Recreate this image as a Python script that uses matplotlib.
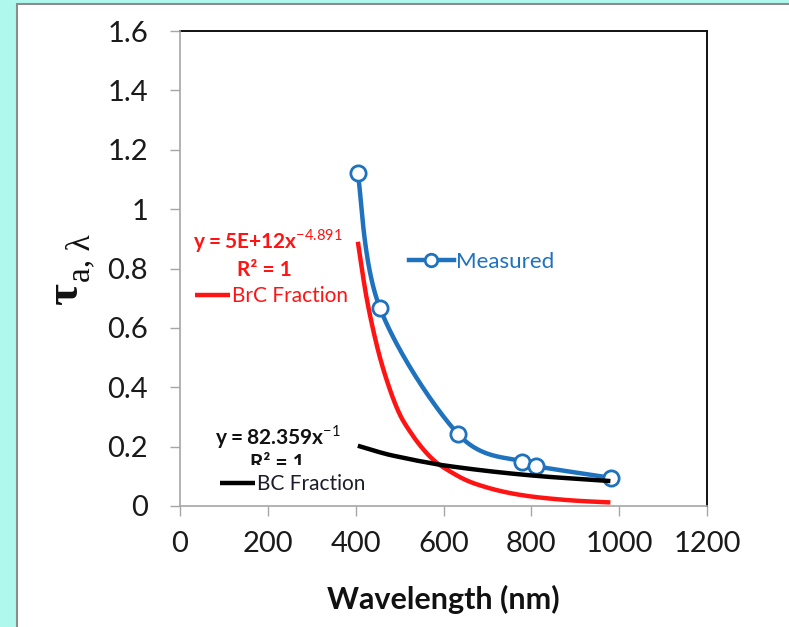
import numpy as np
import matplotlib.pyplot as plt
from matplotlib.patches import Rectangle

# measured optical depth
wavelength = [405, 455, 634, 779, 810, 981]
tau_measured = [1.12, 0.668, 0.241, 0.149, 0.134, 0.095]

# apportioned fractions
frac_wavelength = [405, 425, 450, 475, 500, 525, 550, 575, 600, 650, 700, 750, 800, 850, 900, 950, 980]
tau_brc = [0.89, 0.70, 0.53, 0.405, 0.31, 0.248, 0.198, 0.158, 0.13, 0.088, 0.062, 0.044,
           0.032, 0.024, 0.018, 0.014, 0.012]
tau_bc = [0.203, 0.194, 0.183, 0.173, 0.165, 0.157, 0.150, 0.143, 0.137, 0.127, 0.118, 0.110,
          0.103, 0.097, 0.092, 0.087, 0.084]

xticks = [0, 200, 400, 600, 800, 1000, 1200]
yticks = [0, 0.2, 0.4, 0.6, 0.8, 1, 1.2, 1.4, 1.6]

BLUE = "#1f72bd"
RED = "#ff1414"
BLACK = "#000000"
GREY = "#a6a6a6"


def smooth(x, y, n=40):
    """Catmull-Rom style smoothing (same as a spreadsheet 'smoothed line')."""
    p = np.column_stack([x, y]).astype(float)
    p = np.vstack([p[0], p, p[-1]])
    out = []
    for i in range(1, len(p) - 2):
        p0, p1, p2, p3 = p[i - 1], p[i], p[i + 1], p[i + 2]
        c1 = p1 + (p2 - p0) / 6.0
        c2 = p2 - (p3 - p1) / 6.0
        t = np.linspace(0, 1, n)[:, None]
        seg = ((1 - t) ** 3) * p1 + 3 * ((1 - t) ** 2) * t * c1 + 3 * (1 - t) * t ** 2 * c2 + t ** 3 * p2
        out.append(seg if i == 1 else seg[1:])
    out = np.vstack(out)
    return out[:, 0], out[:, 1]


plt.rcParams["font.family"] = ["Lato", "DejaVu Sans"]
plt.rcParams["mathtext.fontset"] = "custom"
plt.rcParams["mathtext.rm"] = "Lato"
plt.rcParams["mathtext.bf"] = "Lato:bold"

fig = plt.figure(figsize=(7.89, 6.27), dpi=100)
fig.patch.set_facecolor("#aef8ee")
fig.add_artist(Rectangle((17 / 789, -0.02), 1.0, 1.02 - 4 / 627, transform=fig.transFigure,
                         facecolor="white", edgecolor="#8c8c8c", linewidth=1.5, zorder=-1))

ax = fig.add_axes([180 / 789, 1 - 506 / 627, 527 / 789, 475 / 627])

sx, sy = smooth(wavelength, tau_measured)
ax.plot(sx, sy, color=BLUE, lw=3.2, zorder=3, solid_capstyle="butt")
meas_pts, = ax.plot(wavelength, tau_measured, "o", color=BLUE, ms=11, mfc="white", mec=BLUE, mew=2, zorder=4)
meas_key, = ax.plot([], [], "-o", color=BLUE, lw=3.2, ms=9, mfc="white", mec=BLUE, mew=2)

rx, ry = smooth(frac_wavelength, tau_brc)
brc_line, = ax.plot(rx, ry, color=RED, lw=3.2, zorder=3, solid_capstyle="butt")
bx, by = smooth(frac_wavelength, tau_bc)
bc_line, = ax.plot(bx, by, color=BLACK, lw=3.2, zorder=5, solid_capstyle="butt")

ax.set_xlim(0, 1200)
ax.set_ylim(0, 1.6)
ax.set_xticks(xticks)
ax.set_yticks(yticks)
ax.set_xticklabels([str(v) for v in xticks])
ax.set_yticklabels(["0", "0.2", "0.4", "0.6", "0.8", "1", "1.2", "1.4", "1.6"])
ax.tick_params(axis="both", direction="out", length=7, width=1, color=GREY,
               labelsize=21, labelcolor="#1a1a1a")
ax.tick_params(axis="y", pad=16)
ax.tick_params(axis="x", pad=11)

for side in ("top", "right"):
    ax.spines[side].set_color("#111111")
    ax.spines[side].set_linewidth(1.4)
for side in ("left", "bottom"):
    ax.spines[side].set_color(GREY)
    ax.spines[side].set_linewidth(1.2)
    ax.spines[side].set_zorder(7)

ax.set_xlabel("Wavelength (nm)", fontsize=22, fontweight="bold", labelpad=20, color="#111111")

# y label: tau with subscript
fig.text(66 / 789, 1 - 294 / 627, "τ", family="Liberation Serif", weight="bold", size=34,
         rotation=90, ha="center", va="center", color="#111111")
fig.text(81 / 789, 1 - 258 / 627, "a, λ", family="Liberation Serif", size=24,
         rotation=90, ha="center", va="center", color="#111111")

# fit equations
ax.text(0.025, 0.558, r"$\mathbf{y=5E{+}12x}^{\mathrm{-4.891}}$", transform=ax.transAxes,
        color=RED, fontsize=15, ha="left", va="center", zorder=4)
ax.text(0.161, 0.497, "R² = 1", transform=ax.transAxes, color=RED, fontsize=15,
        fontweight="bold", ha="center", va="center", zorder=4)
ax.text(0.066, 0.145, r"$\mathbf{y=82.359x}^{\mathrm{-1}}$", transform=ax.transAxes,
        color="#111111", fontsize=15, ha="left", va="center", zorder=4)
ax.text(0.184, 0.091, "R² = 1", transform=ax.transAxes, color="#111111", fontsize=15,
        fontweight="bold", ha="center", va="center", zorder=4)

# legends, placed separately
leg1 = ax.legend([meas_key], ["Measured"], loc="center left", bbox_to_anchor=(0.435, 0.514),
                 frameon=False, fontsize=16, labelcolor=BLUE, handlelength=2.0,
                 handletextpad=0.1, borderpad=0, borderaxespad=0, numpoints=1)
ax.add_artist(leg1)
leg2 = ax.legend([brc_line], ["BrC Fraction"], loc="center left", bbox_to_anchor=(0.028, 0.442),
                 frameon=False, fontsize=15, labelcolor=RED, handlelength=1.7,
                 handletextpad=0.1, borderpad=0, borderaxespad=0)
ax.add_artist(leg2)
leg3 = ax.legend([bc_line], ["BC Fraction"], loc="center left", bbox_to_anchor=(0.058, 0.046),
                 frameon=True, fancybox=False, facecolor="white", edgecolor="none", framealpha=1,
                 fontsize=15, labelcolor="#1c1c2a", handlelength=1.7,
                 handletextpad=0.1, borderpad=0.45, borderaxespad=0)
leg3.set_zorder(6)

fig.savefig("out.png", dpi=100, facecolor=fig.get_facecolor())
